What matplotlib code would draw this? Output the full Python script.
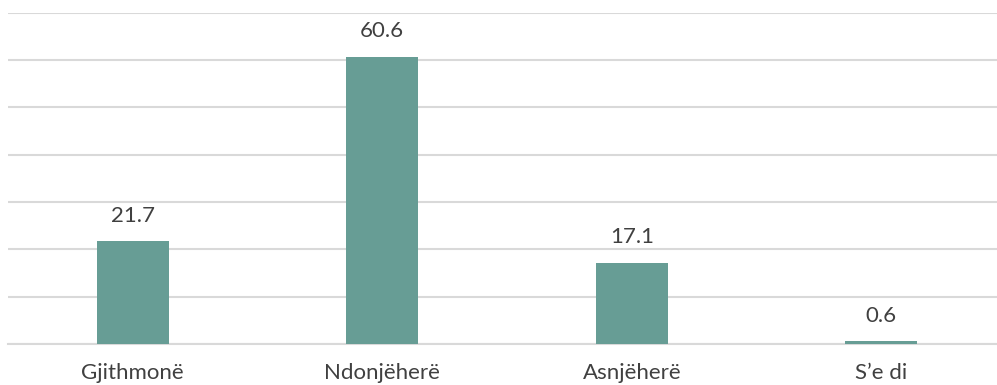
import matplotlib.pyplot as plt

# data
kategori = ["Gjithmonë", "Ndonjëherë", "Asnjëherë", "S’e di"]
nilai = [21.7, 60.6, 17.1, 0.6]

W, H = 997, 385
fig = plt.figure(figsize=(W / 100, H / 100), dpi=100)
ax = fig.add_axes([8 / W, 41 / H, 998 / W, 331.5 / H])

plt.rcParams['font.family'] = ['Lato', 'DejaVu Sans']
warna_teks = '#404040'
huruf = ['Lato', 'DejaVu Sans']

x = range(len(kategori))
bars = ax.bar(x, nilai, width=0.29, color='#679D95', zorder=3)
for b, v in zip(bars, nilai):
    ax.text(b.get_x() + b.get_width() / 2, v + 3.3, f"{v}", ha='center', va='bottom',
            fontsize=16, color=warna_teks, family=huruf)

ax.set_xlim(-0.5, len(kategori) - 0.5)
ax.set_ylim(0, 70)
ax.set_yticks(range(0, 71, 10))
ax.yaxis.grid(True, color='#D9D9D9', linewidth=1.5, zorder=0)
ax.set_yticklabels([])
ax.tick_params(axis='y', length=0)
ax.set_xticks(list(x))
ax.set_xticklabels(kategori, fontsize=16, color=warna_teks, family=huruf)
ax.tick_params(axis='x', length=0, pad=14)
for s in ['top', 'right', 'left']:
    ax.spines[s].set_visible(False)
ax.spines['bottom'].set_color('#D9D9D9')
ax.spines['bottom'].set_linewidth(1.5)

fig.savefig('out.png', dpi=100)
